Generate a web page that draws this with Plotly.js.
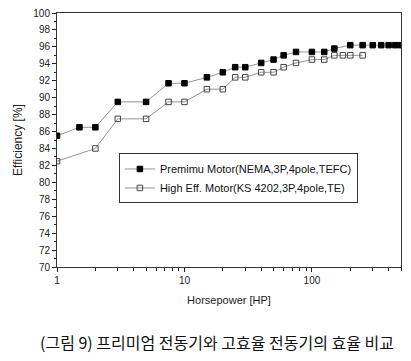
<!DOCTYPE html>
<html>
<head>
<meta charset="utf-8">
<script src="https://cdn.plot.ly/plotly-3.0.1.min.js"></script>
<style>html,body{margin:0;padding:0;background:#fff;}#chart{width:411px;height:361px;}</style>
</head>
<body>
<div id="chart"></div>
<script>
const premiumHP = [1, 1.5, 2, 3, 5, 7.5, 10, 15, 20, 25, 30, 40, 50, 60, 75, 100, 125, 150, 200, 250, 300, 350, 400, 450, 500];
const premiumEff = [85.5, 86.5, 86.5, 89.5, 89.5, 91.7, 91.7, 92.4, 93.0, 93.6, 93.6, 94.1, 94.5, 95.0, 95.4, 95.4, 95.4, 95.8, 96.2, 96.2, 96.2, 96.2, 96.2, 96.2, 96.2];
const highHP = [1, 2, 3, 5, 7.5, 10, 15, 20, 25, 30, 40, 50, 60, 75, 100, 125, 150, 175, 200, 250];
const highEff = [82.5, 84.0, 87.5, 87.5, 89.5, 89.5, 91.0, 91.0, 92.4, 92.4, 93.0, 93.0, 93.6, 94.1, 94.5, 94.5, 95.0, 95.0, 95.0, 95.0];
const seriesNames = ["Premimu Motor(NEMA,3P,4pole,TEFC)", "High Eff. Motor(KS 4202,3P,4pole,TE)"];
const xTickVals = [1, 10, 100];
const xTickText = ["1", "10", "100"];
const xMinorVals = [2,3,4,5,6,7,8,9,20,30,40,50,60,70,80,90,200,300,400,500];
const xTitle = "Horsepower [HP]";
const yTitle = "Efficiency [%]";
const caption = "(그림 9) 프리미엄 전동기와 고효율 전동기의 효율 비교";

const font = "Liberation Sans, Arial, sans-serif";

const traces = [
  {
    x: premiumHP, y: premiumEff, name: seriesNames[0], type: "scatter", mode: "lines+markers",
    line: {color: "#777", width: 0.8},
    marker: {symbol: "square", size: 5.5, color: "#000", line: {color: "#000", width: 1}}
  },
  {
    x: highHP, y: highEff, name: seriesNames[1], type: "scatter", mode: "lines+markers",
    line: {color: "#777", width: 0.8},
    marker: {symbol: "square-open", size: 5.5, color: "#444", line: {width: 1}}
  }
];

const layout = {
  width: 411, height: 361,
  margin: {l: 57, r: 10, t: 13, b: 94},
  paper_bgcolor: "#fff", plot_bgcolor: "#fff",
  font: {family: font, color: "#222", size: 10},
  showlegend: true,
  legend: {
    x: 0.18, y: 0.447, xanchor: "left", yanchor: "top",
    bgcolor: "#fff", bordercolor: "#333", borderwidth: 1,
    font: {family: font, size: 11, color: "#111"},
    tracegroupgap: 0, itemwidth: 30
  },
  xaxis: {
    type: "log", range: [0, Math.log10(500)],
    tickvals: xTickVals, ticktext: xTickText,
    ticks: "outside", ticklen: 4, tickcolor: "#222",
    minor: {tickvals: xMinorVals, ticks: "outside", ticklen: 2.5, tickcolor: "#222", showgrid: false},
    showline: true, linecolor: "#333", linewidth: 1, mirror: true,
    showgrid: false, zeroline: false,
    tickfont: {family: font, size: 10, color: "#222"},
    title: {text: xTitle, font: {family: font, size: 11, color: "#222"}, standoff: 11}
  },
  yaxis: {
    range: [70, 100], dtick: 2, tick0: 70,
    ticks: "outside", ticklen: 4, tickcolor: "#222",
    minor: {dtick: 1, ticks: "outside", ticklen: 2.5, tickcolor: "#222", showgrid: false},
    showline: true, linecolor: "#333", linewidth: 1, mirror: true,
    showgrid: false, zeroline: false,
    tickfont: {family: font, size: 10, color: "#222"},
    title: {text: yTitle, font: {family: font, size: 12, color: "#222"}, standoff: 8}
  },
  annotations: [{
    text: caption, xref: "paper", yref: "paper", x: 0.5, y: -0.295,
    xanchor: "center", yanchor: "middle", showarrow: false,
    xshift: -12,
    font: {family: "Noto Sans CJK KR, sans-serif", size: 16, color: "#111"}
  }]
};

Plotly.newPlot("chart", traces, layout, {displayModeBar: false, staticPlot: true});
</script>
</body>
</html>
